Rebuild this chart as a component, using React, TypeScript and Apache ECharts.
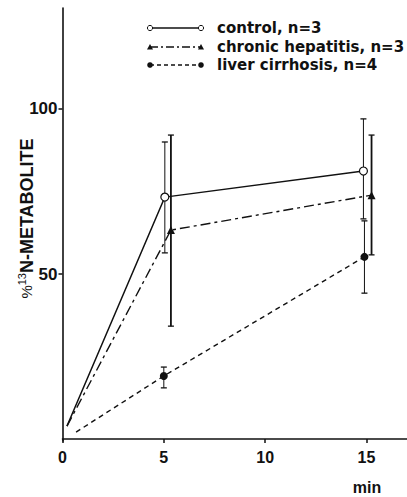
import React, { useEffect, useRef } from 'react';
import * as echarts from 'echarts';

const FONT = '"Liberation Sans", Arial, Helvetica, sans-serif';
const LEGEND_FONT = '"DejaVu Sans", "Liberation Sans", sans-serif';
const INK = '#111';

// axis ticks
const xTicks = [0, 5, 10, 15];
const yTicks = [50, 100];

// control, n=3 (mean line; first point is the origin of the curve, no marker)
const controlX = [0.22, 5.05, 14.85];
const controlY = [3.9, 73.3, 81.2];
const controlErrX = [5.05, 14.85];
const controlLow = [56.4, 66.7];
const controlHigh = [90.0, 97.0];

// chronic hepatitis, n=3
const hepatitisX = [0.22, 5.35, 15.25];
const hepatitisY = [3.9, 63.3, 73.9];
const hepatitisErrX = [5.35, 15.25];
const hepatitisLow = [34.2, 55.8];
const hepatitisHigh = [92.1, 92.1];

// liver cirrhosis, n=4
const cirrhosisX = [0.67, 5.0, 14.9];
const cirrhosisY = [2.1, 19.1, 55.2];
const cirrhosisErrX = [5.0, 14.9];
const cirrhosisLow = [15.5, 44.2];
const cirrhosisHigh = [21.8, 66.1];

const legendLabels = ['control, n=3', 'chronic hepatitis, n=3', 'liver cirrhosis, n=4'];

function lineData(xs: number[], ys: number[]) {
  return xs.map((x, i) => (i === 0 ? { value: [x, ys[i]], symbol: 'none' } : [x, ys[i]]));
}

function errorBars(name: string, xs: number[], lows: number[], highs: number[], width: number) {
  return {
    name,
    type: 'custom',
    z: 2,
    encode: { x: 0, y: [1, 2] },
    data: xs.map((x, i) => [x, lows[i], highs[i]]),
    renderItem: (_params: any, api: any) => {
      const x = api.value(0);
      const lo = api.coord([x, api.value(1)]);
      const hi = api.coord([x, api.value(2)]);
      const half = 3;
      const style = { stroke: INK, lineWidth: width };
      return {
        type: 'group',
        children: [
          { type: 'line', shape: { x1: hi[0], y1: hi[1], x2: lo[0], y2: lo[1] }, style },
          { type: 'line', shape: { x1: hi[0] - half, y1: hi[1], x2: hi[0] + half, y2: hi[1] }, style: { stroke: INK, lineWidth: 1.3 } },
          { type: 'line', shape: { x1: lo[0] - half, y1: lo[1], x2: lo[0] + half, y2: lo[1] }, style: { stroke: INK, lineWidth: 1.3 } },
        ],
      };
    },
  };
}

const legendRows = [28, 47, 65];
const LX1 = 150;
const LX2 = 201;

function legendGraphics() {
  const out: any[] = [];
  const dashes: any[] = [null, [8, 3, 2, 3], [4, 3]];
  legendRows.forEach((y, i) => {
    out.push({
      type: 'line',
      shape: { x1: LX1, y1: y, x2: LX2, y2: y },
      style: { stroke: INK, lineWidth: 1.3, lineDash: dashes[i] || undefined },
    });
    [LX1, LX2].forEach((cx) => {
      if (i === 0) {
        out.push({ type: 'circle', shape: { cx, cy: y, r: 2.6 }, style: { fill: '#fff', stroke: INK, lineWidth: 1 } });
      } else if (i === 1) {
        out.push({
          type: 'polygon',
          shape: { points: [[cx, y - 3], [cx - 3, y + 2.5], [cx + 3, y + 2.5]] },
          style: { fill: INK },
        });
      } else {
        out.push({ type: 'circle', shape: { cx, cy: y, r: 2.8 }, style: { fill: INK } });
      }
    });
    out.push({
      type: 'text',
      x: 217,
      y,
      style: {
        text: legendLabels[i],
        fill: INK,
        font: `bold 15px ${LEGEND_FONT}`,
        align: 'left',
        verticalAlign: 'middle',
      },
    });
  });
  return out;
}

export default function App() {
  const ref = useRef<HTMLDivElement>(null);

  useEffect(() => {
    if (!ref.current) return;
    const chart = echarts.init(ref.current, undefined, { renderer: 'svg' });
    chart.setOption({
      animation: false,
      backgroundColor: '#fff',
      grid: { left: 62.5, right: 0, top: 8, bottom: 56, containLabel: false },
      xAxis: {
        type: 'value',
        min: 0,
        max: 17,
        splitLine: { show: false },
        axisLine: { show: true, lineStyle: { color: INK, width: 1.6 } },
        axisTick: { show: true, customValues: xTicks, length: 4, lineStyle: { color: INK, width: 1.5 } },
        axisLabel: {
          customValues: xTicks,
          color: INK,
          fontFamily: FONT,
          fontWeight: 'bold',
          fontSize: 16,
          margin: 8,
        },
      },
      yAxis: {
        type: 'value',
        min: -0.6,
        max: 130.6,
        splitLine: { show: false },
        axisLine: { show: true, lineStyle: { color: INK, width: 1.6 } },
        axisTick: { show: true, customValues: yTicks, length: 4, lineStyle: { color: INK, width: 1.5 } },
        axisLabel: {
          customValues: yTicks,
          color: INK,
          fontFamily: FONT,
          fontWeight: 'bold',
          fontSize: 17,
          margin: 5,
        },
      },
      series: [
        errorBars('control SD', controlErrX, controlLow, controlHigh, 1),
        errorBars('hepatitis SD', hepatitisErrX, hepatitisLow, hepatitisHigh, 1.8),
        errorBars('cirrhosis SD', cirrhosisErrX, cirrhosisLow, cirrhosisHigh, 1),
        {
          name: legendLabels[0],
          type: 'line',
          z: 3,
          data: lineData(controlX, controlY),
          symbol: 'circle',
          symbolSize: 8,
          showAllSymbol: true,
          lineStyle: { color: INK, width: 1.4 },
          itemStyle: { color: '#fff', borderColor: INK, borderWidth: 1.2 },
        },
        {
          name: legendLabels[1],
          type: 'line',
          z: 3,
          data: lineData(hepatitisX, hepatitisY),
          symbol: 'triangle',
          symbolSize: 8,
          showAllSymbol: true,
          lineStyle: { color: INK, width: 1.4, type: [10, 4, 3, 4] },
          itemStyle: { color: INK },
        },
        {
          name: legendLabels[2],
          type: 'line',
          z: 3,
          data: lineData(cirrhosisX, cirrhosisY),
          symbol: 'circle',
          symbolSize: 8,
          showAllSymbol: true,
          lineStyle: { color: INK, width: 1.4, type: [5, 4] },
          itemStyle: { color: INK },
        },
      ],
      graphic: [
        ...legendGraphics(),
        {
          type: 'text',
          x: 26.5,
          y: 218.5,
          rotation: Math.PI / 2,
          style: {
            text: '{p|%}{s|13}{m|N-METABOLITE}',
            align: 'center',
            verticalAlign: 'middle',
            fill: INK,
            rich: {
              p: { fontSize: 15, fontFamily: FONT, fontWeight: 'normal', fill: INK, lineHeight: 20 },
              s: { fontSize: 11, fontFamily: FONT, fontWeight: 'normal', fill: INK, verticalAlign: 'top', lineHeight: 20 },
              m: { fontSize: 18, fontFamily: FONT, fontWeight: 'bold', fill: INK, lineHeight: 20 },
            },
          },
        },
        {
          type: 'text',
          x: 367,
          y: 487,
          style: {
            text: 'min',
            fill: INK,
            font: `bold 16px ${FONT}`,
            align: 'center',
            verticalAlign: 'middle',
          },
        },
      ],
    });
    return () => chart.dispose();
  }, []);

  return (
    <div
      ref={ref}
      style={{ position: 'fixed', left: 0, top: 0, width: 407, height: 497, background: '#fff' }}
    />
  );
}
